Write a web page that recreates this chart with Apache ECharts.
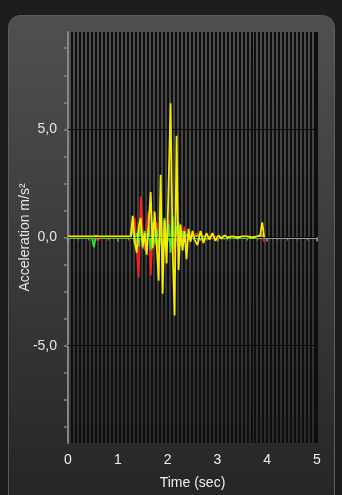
<!DOCTYPE html>
<html>
<head>
<meta charset="utf-8">
<script src="https://cdn.jsdelivr.net/npm/echarts@6/dist/echarts.min.js"></script>
<style>
html,body{margin:0;padding:0;background:#1d1d1d;}
#chart{width:342px;height:495px;}
</style>
</head>
<body>
<div id="chart"></div>
<script>
// Sample times (seconds)
const times = [
  0, 0.1, 0.2, 0.3, 0.4, 0.48, 0.52, 0.56, 0.6, 0.64, 0.7, 0.8, 0.9, 1.0, 1.1, 1.2, 1.26,
  1.30, 1.34, 1.38, 1.42, 1.46, 1.50, 1.54, 1.58, 1.62, 1.66, 1.70, 1.74, 1.78, 1.82, 1.86, 1.90,
  1.94, 1.98, 2.02, 2.06, 2.10, 2.14, 2.18, 2.22, 2.26, 2.30, 2.34, 2.38, 2.42, 2.46, 2.50, 2.54,
  2.6, 2.66, 2.72, 2.78, 2.84, 2.9, 2.96, 3.02, 3.08, 3.14, 3.2, 3.3, 3.4, 3.5, 3.6, 3.7, 3.8, 3.86, 3.9, 3.94
];
const redValues = [
  0, 0, 0.02, 0, 0, 0, -0.02, 0, -0.15, 0, 0, 0.02, 0, 0, 0, 0, 0,
  0.4, 0.9, -0.5, -1.85, 1.9, 0.3, -0.6, 0.5, 1.2, -1.75, 0.2, -0.4, 0.7, -0.9, 0.5, -0.3,
  0.9, -0.6, 0.8, -0.4, 0.6, -0.8, 0.3, -0.5, 0.2, -0.3, 0.5, -0.2, 0.1, -0.1, 0.05, 0,
  0.2, -0.15, 0.1, -0.1, 0.05, -0.05, 0.05, -0.05, 0, 0, 0, 0, 0.02, 0, 0, 0, 0, 0, 0.2, -0.2
];
const greenValues = [
  -0.02, -0.02, -0.02, -0.02, -0.02, -0.02, -0.45, 0.1, -0.02, -0.02, -0.02, -0.02, -0.02, -0.02, -0.02, -0.02, -0.02,
  0.5, -0.3, 0.2, -0.4, 0.6, -0.5, 0.3, -0.2, 0.5, -0.6, 0.7, -0.3, 0.4, -0.5, 0.3, -0.8,
  0.9, -0.4, 0.6, -0.7, 1.0, -0.5, 0.4, 0.7, -0.4, 0.3, -0.2, 0.15, -0.1, 0.05, 0, 0,
  0.1, -0.1, 0.05, -0.05, 0, 0.02, -0.05, 0, 0, -0.05, 0, -0.02, 0, -0.02, 0, -0.02, 0, 0, 0.1, 0
];
const yellowValues = [
  0.05, 0.05, 0.05, 0.05, 0.05, 0.05, 0.02, 0.05, 0.05, 0.05, 0.05, 0.05, 0.05, 0.05, 0.05, 0.05, 0.05,
  1.0, -0.2, -0.7, 0.5, 0.9, -0.4, 0.2, -0.8, 0.6, 2.1, -0.5, 1.2, -0.3, -2.0, 2.9, -2.6,
  0.8, -1.2, 2.4, 6.2, -0.5, -3.6, 4.7, -1.5, 0.6, -0.6, 0.3, -1.0, 0.4, -0.2, 0.3, -0.1,
  -0.35, 0.3, -0.25, 0.2, -0.1, 0.2, -0.15, 0.1, -0.05, 0.1, 0, 0.05, 0, 0.05, 0.05, 0, 0.05, 0.1, 0.7, 0
];
const yLabelValues = [-5, 0, 5];
const yTickValues = [-8.75, -7.5, -6.25, -5, -3.75, -2.5, -1.25, 0, 1.25, 2.5, 3.75, 5, 6.25, 7.5, 8.75];
const gridLineValues = [-5, 0, 5];

function pairs(vals){ return times.map((t,i)=>[t, vals[i]]); }

const chart = echarts.init(document.getElementById('chart'), null, {renderer:'canvas'});
const font = 'Liberation Sans, Arial, sans-serif';

function lineSeries(name, vals, color, z){
  return {
    name, type:'line', data: pairs(vals), showSymbol:false, symbol:'none',
    lineStyle:{color, width:1.8}, itemStyle:{color}, z, animation:false
  };
}

const option = {
  backgroundColor:'#1d1d1d',
  animation:false,
  graphic:[{
    type:'rect', left:8, top:15, z:-10,
    shape:{width:326, height:500, r:12},
    style:{
      fill:{type:'linear', x:0, y:0, x2:0, y2:1, colorStops:[
        {offset:0, color:'#505050'}, {offset:1, color:'#242424'}
      ]},
      stroke:'#5c5c5c', lineWidth:1
    }
  }],
  grid:{left:68, right:25, top:32, bottom:52},
  xAxis:[{
    type:'value', min:0, max:5, interval:1,
    axisLine:{show:true, lineStyle:{color:'#9a9a9a', width:2}},
    axisTick:{show:true, length:4, lineStyle:{color:'#9a9a9a', width:1.5}},
    minorTick:{show:true, splitNumber:5, length:3, lineStyle:{color:'#8a8a8a'}},
    splitLine:{show:false},
    axisLabel:{color:'#eeeeee', fontSize:14, fontFamily:font, margin:10},
    name:'Time (sec)', nameLocation:'middle', nameGap:33, nameMoveOverlap:false,
    nameTextStyle:{color:'#eeeeee', fontSize:14, fontFamily:font}
  },{
    type:'value', min:0, max:5, interval:0.08, position:'bottom',
    axisLine:{show:false}, axisTick:{show:false}, axisLabel:{show:false},
    splitLine:{show:true, lineStyle:{color:'#0e0e0e', width:2}}
  }],
  yAxis:[{
    type:'value', min:-9.5, max:9.5,
    axisLine:{show:true, lineStyle:{color:'#858585', width:2}},
    axisTick:{show:true, length:4, customValues:yTickValues, lineStyle:{color:'#858585', width:1.5}},
    axisLabel:{color:'#e6e6e6', fontSize:14, fontFamily:font, margin:11, customValues:yLabelValues,
      formatter:v=>v.toFixed(1).replace('.', ',')},
    splitLine:{show:false},
    name:'Acceleration m/s²', nameLocation:'middle', nameGap:36, nameRotate:90, nameMoveOverlap:false,
    nameTextStyle:{color:'#e6e6e6', fontSize:14, fontFamily:font}
  }],
  series:[
    {
      type:'line', data:[], xAxisIndex:0, silent:true,
      markLine:{silent:true, symbol:'none', label:{show:false},
        lineStyle:{color:'#050505', width:1, type:'solid'},
        data: gridLineValues.map(v=>({yAxis:v}))}
    },
    lineSeries('red', redValues, '#ff1e1e', 3),
    lineSeries('green', greenValues, '#2ee62e', 4),
    lineSeries('yellow', yellowValues, '#f5ec00', 5)
  ]
};
chart.setOption(option);
</script>
</body>
</html>
